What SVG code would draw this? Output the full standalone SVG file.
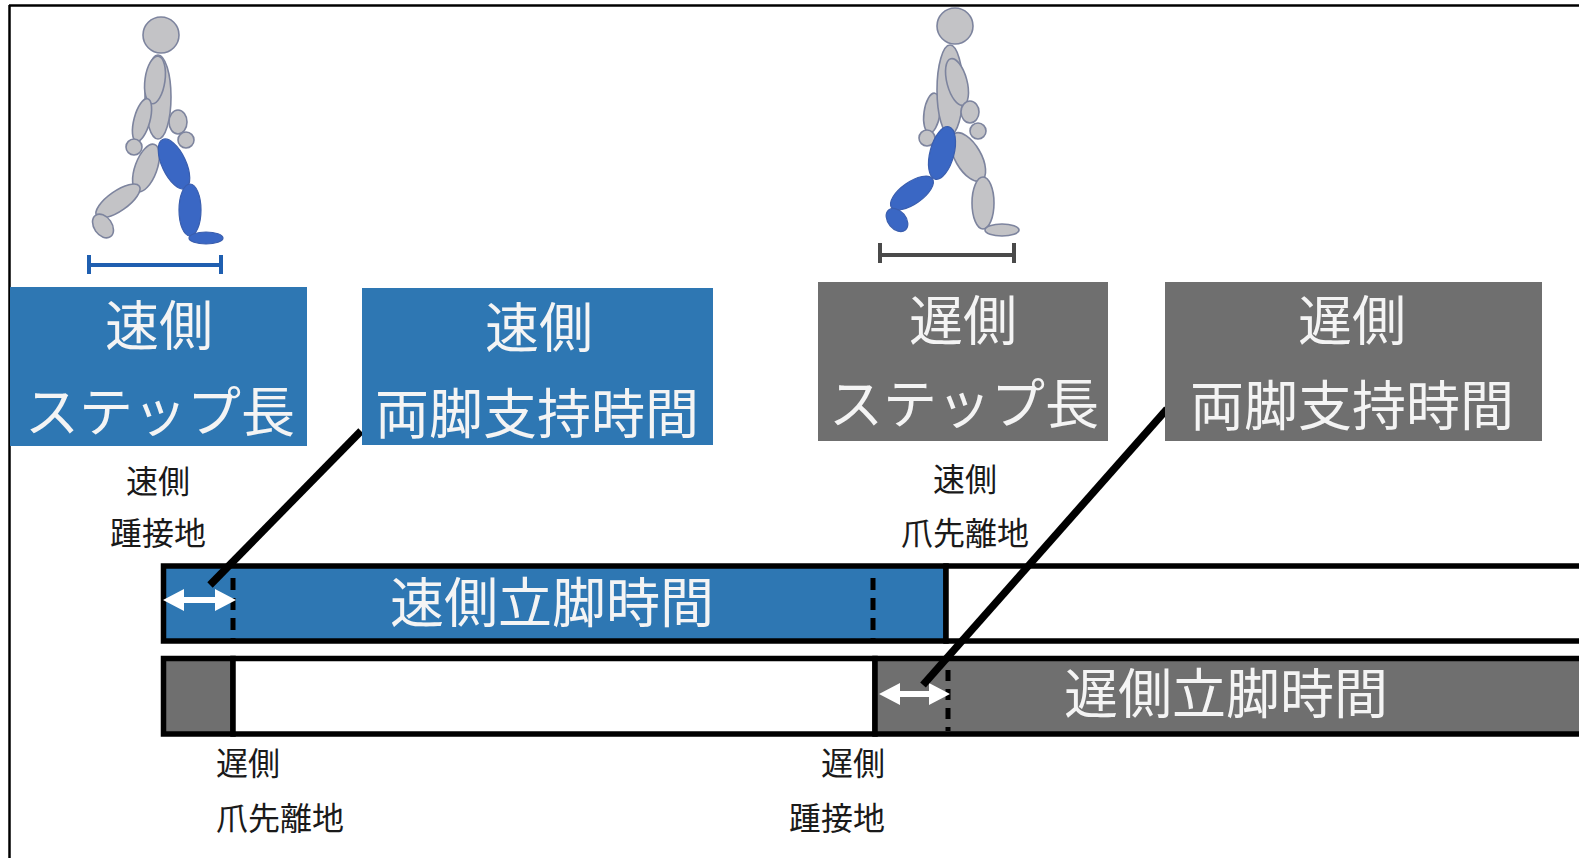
<svg xmlns="http://www.w3.org/2000/svg" width="1579" height="858" viewBox="0 0 1579 858">
  <style>
    .jp { font-family: "Noto Sans CJK JP", "Noto Sans CJK SC", sans-serif; }
    .box-t { fill: #f4f4f4; font-size: 54px; text-anchor: middle; }
    .lbl { fill: #1a1a1a; font-size: 32px; }
    .body { fill: #c3c3c6; stroke: #7d849e; stroke-width: 1.6; }
    .leg { fill: #3a67c4; stroke: #3a5eae; stroke-width: 1.2; }
    .blue { fill: #2e77b3; }
    .grey { fill: #6f6f6f; }
    .bar { stroke: #000; stroke-width: 5.5; }
    .dash { stroke: #000; stroke-width: 5; }
    .conn { stroke: #000; stroke-width: 7.5; stroke-linecap: butt; }
  </style>

  <rect width="1579" height="858" fill="#fff"/>
  <!-- frame -->
  <g id="frame" stroke="#000" stroke-width="2.5" fill="none">
    <line x1="9" y1="5.5" x2="1579" y2="5.5"/>
    <line x1="9.5" y1="5" x2="9.5" y2="858"/>
  </g>

  <!-- walker, fast side step -->
  <g id="walker-fast">
    <ellipse class="body" cx="178" cy="122" rx="9" ry="12"/>
    <circle class="body" cx="186" cy="140" r="8"/>
    <ellipse class="body" cx="146" cy="168" rx="11" ry="25" transform="rotate(20 146 168)"/>
    <ellipse class="body" cx="118" cy="201" rx="10" ry="26" transform="rotate(55 118 201)"/>
    <ellipse class="body" cx="103" cy="226" rx="9" ry="13" transform="rotate(-35 103 226)"/>
    <ellipse class="body" cx="158" cy="97" rx="13" ry="42"/>
    <ellipse class="body" cx="155" cy="80" rx="10" ry="24" transform="rotate(8 155 80)"/>
    <circle class="body" cx="161" cy="35" r="18"/>
    <ellipse class="leg" cx="174" cy="164" rx="12" ry="27" transform="rotate(-25 174 164)"/>
    <ellipse class="leg" cx="190" cy="210" rx="11" ry="26"/>
    <ellipse class="leg" cx="206" cy="238" rx="17" ry="6"/>
    <ellipse class="body" cx="142" cy="120" rx="8" ry="22" transform="rotate(15 142 120)"/>
    <circle class="body" cx="134" cy="147" r="8"/>
  </g>
  <g id="scale-fast" stroke="#1f5fb0" stroke-width="4">
    <line x1="88" y1="265" x2="222" y2="265"/>
    <line x1="89" y1="255" x2="89" y2="274"/>
    <line x1="221" y1="255" x2="221" y2="274"/>
  </g>

  <!-- walker, slow side step -->
  <g id="walker-slow">
    <ellipse class="body" cx="932" cy="113" rx="8" ry="20" transform="rotate(8 932 113)"/>
    <circle class="body" cx="927" cy="138" r="8"/>
    <ellipse class="body" cx="968" cy="157" rx="13" ry="27" transform="rotate(-30 968 157)"/>
    <ellipse class="body" cx="983" cy="203" rx="11" ry="26"/>
    <ellipse class="body" cx="1002" cy="230" rx="17" ry="6"/>
    <ellipse class="body" cx="950" cy="90" rx="13" ry="45"/>
    <ellipse class="body" cx="957" cy="82" rx="10" ry="24" transform="rotate(-15 957 82)"/>
    <circle class="body" cx="955" cy="26" r="18"/>
    <ellipse class="leg" cx="942" cy="153" rx="12" ry="27" transform="rotate(15 942 153)"/>
    <ellipse class="leg" cx="912" cy="193" rx="11" ry="25" transform="rotate(55 912 193)"/>
    <ellipse class="leg" cx="897" cy="220" rx="9" ry="13" transform="rotate(-40 897 220)"/>
    <ellipse class="body" cx="970" cy="112" rx="9" ry="11"/>
    <circle class="body" cx="978" cy="131" r="8"/>
  </g>
  <g id="scale-slow" stroke="#4a4a4a" stroke-width="4">
    <line x1="879" y1="255" x2="1015" y2="255"/>
    <line x1="880" y1="243" x2="880" y2="263"/>
    <line x1="1014" y1="243" x2="1014" y2="263"/>
  </g>

  <!-- timeline bars -->
  <g id="bar-fast">
    <rect class="bar blue" x="163.5" y="566" width="782.5" height="75"/>
    <rect class="bar" fill="#fff" x="946" y="566" width="640" height="75"/>
    <line class="dash" x1="233" y1="578" x2="233" y2="639" stroke-dasharray="12 8"/>
    <line class="dash" x1="873" y1="578" x2="873" y2="639" stroke-dasharray="12 8"/>
    <polygon fill="#fff" points="163,600 184,589 184,597 215,597 215,589 236,600 215,611 215,603 184,603 184,611"/>
    <text class="jp box-t" x="552" y="623">速側立脚時間</text>
  </g>
  <g id="bar-slow">
    <rect class="bar grey" x="163.5" y="658.5" width="69.5" height="75.5"/>
    <rect class="bar" fill="#fff" x="233" y="658.5" width="642" height="75.5"/>
    <rect class="bar grey" x="875" y="658.5" width="710" height="75.5"/>
    <line class="dash" x1="948" y1="670" x2="948" y2="731" stroke-dasharray="11 8"/>
    <polygon fill="#fff" points="879,694 900,683 900,691 929,691 929,683 950,694 929,705 929,697 900,697 900,705"/>
    <text class="jp box-t" x="1226" y="714">遅側立脚時間</text>
  </g>

  <!-- connectors from the double-support boxes to their intervals -->
  <g id="connectors">
    <line class="conn" x1="361" y1="431" x2="210" y2="585"/>
    <line class="conn" x1="1167" y1="409" x2="923" y2="685"/>
  </g>

  <!-- header boxes -->
  <g id="fast-step-length">
    <rect class="blue" x="10" y="287" width="297" height="159"/>
    <text class="jp box-t" x="159" y="346">速側</text>
    <text class="jp box-t" x="160" y="432">ステップ長</text>
  </g>
  <g id="fast-double-support">
    <rect class="blue" x="362" y="288" width="351" height="157"/>
    <text class="jp box-t" x="539" y="348">速側</text>
    <text class="jp box-t" x="537" y="434">両脚支持時間</text>
  </g>
  <g id="slow-step-length">
    <rect class="grey" x="818" y="282" width="290" height="159"/>
    <text class="jp box-t" x="963" y="341">遅側</text>
    <text class="jp box-t" x="964" y="424">ステップ長</text>
  </g>
  <g id="slow-double-support">
    <rect class="grey" x="1165" y="282" width="377" height="159"/>
    <text class="jp box-t" x="1352" y="341">遅側</text>
    <text class="jp box-t" x="1352" y="426">両脚支持時間</text>
  </g>

  <!-- event labels -->
  <g id="label-fast-heel-strike" class="jp lbl" text-anchor="middle">
    <text x="158" y="493">速側</text>
    <text x="158" y="545">踵接地</text>
  </g>
  <g id="label-fast-toe-off" class="jp lbl" text-anchor="middle">
    <text x="965" y="491">速側</text>
    <text x="965" y="545">爪先離地</text>
  </g>
  <g id="label-slow-toe-off" class="jp lbl">
    <text x="216" y="775">遅側</text>
    <text x="216" y="830">爪先離地</text>
  </g>
  <g id="label-slow-heel-strike" class="jp lbl" text-anchor="end">
    <text x="885" y="775">遅側</text>
    <text x="885" y="830">踵接地</text>
  </g>
</svg>
